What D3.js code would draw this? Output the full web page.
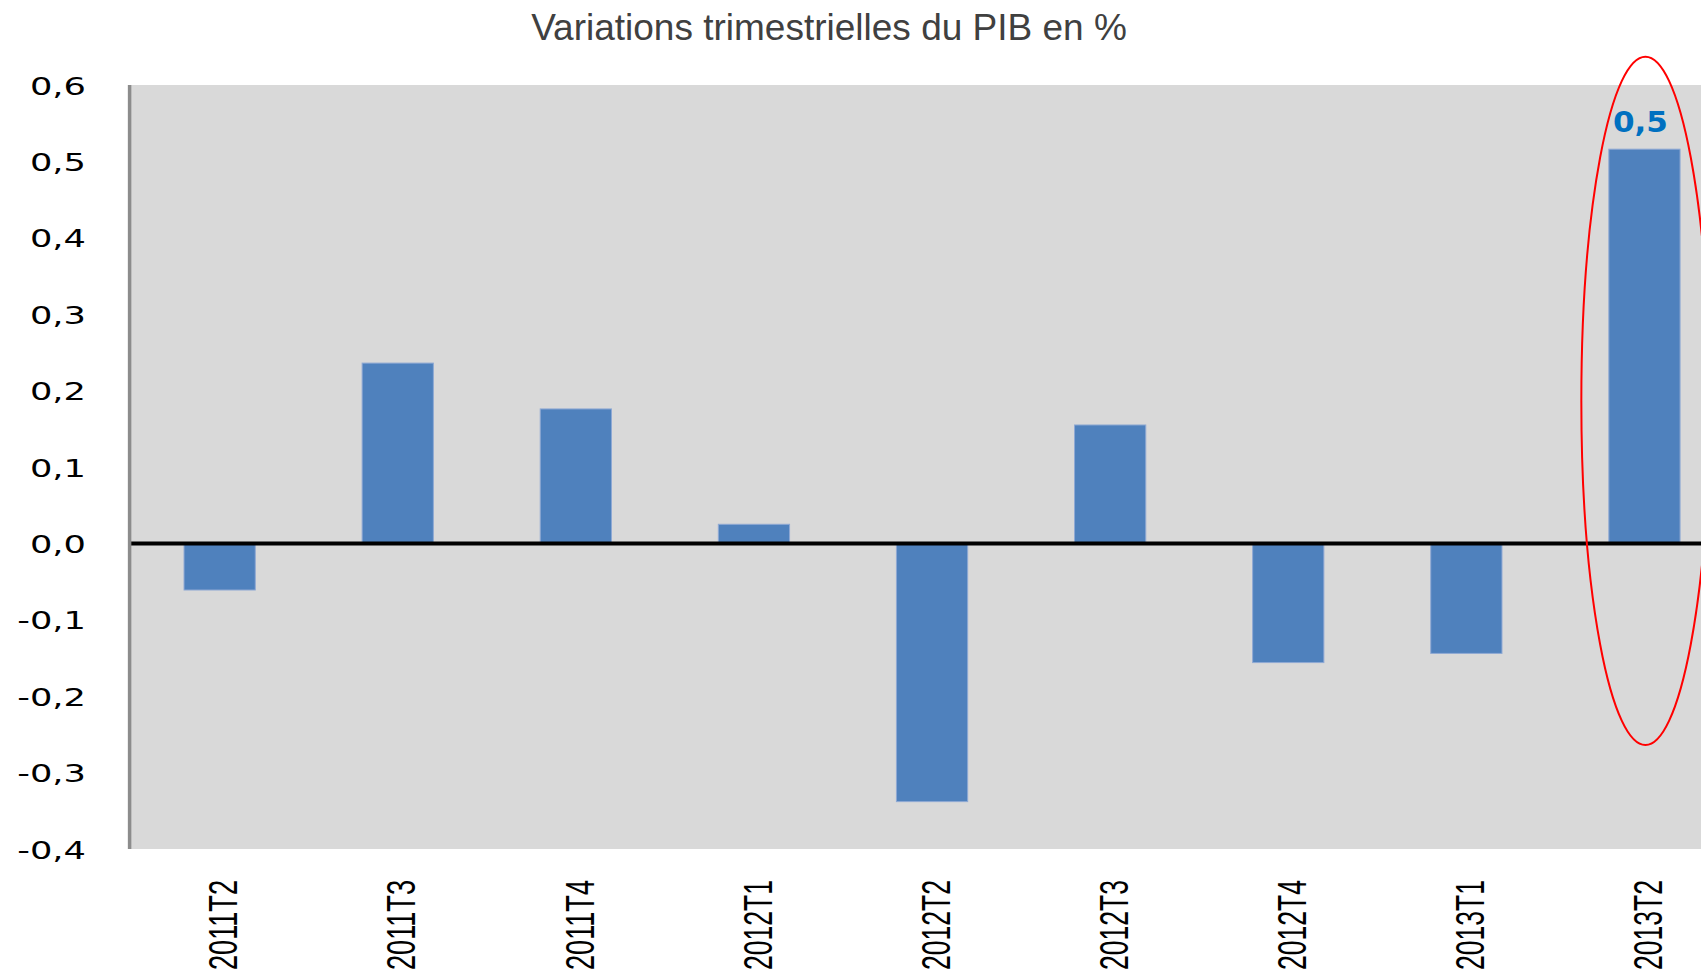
<!DOCTYPE html>
<html>
<head>
<meta charset="utf-8">
<script src="https://cdn.jsdelivr.net/npm/d3@7"></script>
<style>
  html, body { margin: 0; padding: 0; background: #fff; }
  svg { display: block; }
</style>
</head>
<body>
<div id="chart"></div>
<script>
// data
const quarters = ["2011T2", "2011T3", "2011T4", "2012T1", "2012T2", "2012T3", "2012T4", "2013T1", "2013T2"];
const pib = [-0.061, 0.236, 0.176, 0.025, -0.338, 0.155, -0.156, -0.144, 0.516];
const yTicks = [-0.4, -0.3, -0.2, -0.1, 0, 0.1, 0.2, 0.3, 0.4, 0.5, 0.6];
const highlight = { key: "2013T2", label: "0,5", top: 0.637, bottom: -0.264 };

const width = 1701, height = 976;
const plotLeft = 130.6, plotTop = 85, plotBottom = 849;
const plotRight = plotLeft + 9 * 178.1; // plot runs off the right edge

const fmt = v => d3.format(".1f")(v).replace(".", ",").replace("−", "-");

const svg = d3.select("#chart").append("svg")
  .attr("width", width)
  .attr("height", height);

const x = d3.scaleBand()
  .domain(quarters)
  .range([plotLeft, plotRight])
  .paddingInner(0.6)
  .paddingOuter(0.3);

const y = d3.scaleLinear()
  .domain([-0.4, 0.6])
  .range([plotBottom, plotTop]);

// plot background
svg.append("rect")
  .attr("x", plotLeft - 2)
  .attr("y", y(0.6))
  .attr("width", plotRight - plotLeft + 2)
  .attr("height", y(-0.4) - y(0.6))
  .attr("fill", "#d9d9d9");

// title
svg.append("text")
  .attr("x", 829)
  .attr("y", 40)
  .attr("text-anchor", "middle")
  .attr("font-family", "Liberation Sans, Arial, sans-serif")
  .attr("font-size", 37)
  .attr("fill", "#404040")
  .text("Variations trimestrielles du PIB en %");

// bars
svg.append("g").selectAll("rect")
  .data(quarters)
  .enter()
  .append("rect")
    .attr("x", d => x(d))
    .attr("width", x.bandwidth())
    .attr("y", (d, i) => y(Math.max(0, pib[i])))
    .attr("height", (d, i) => Math.abs(y(pib[i]) - y(0)))
    .attr("fill", "#4f81bd")
    .attr("stroke", "#8fa9d4")
    .attr("stroke-width", 1);

// zero line
svg.append("line")
  .attr("x1", plotLeft - 2)
  .attr("x2", width)
  .attr("y1", y(0))
  .attr("y2", y(0))
  .attr("stroke", "#000")
  .attr("stroke-width", 4);

// y axis line
svg.append("line")
  .attr("x1", plotLeft - 1)
  .attr("x2", plotLeft - 1)
  .attr("y1", y(0.6))
  .attr("y2", y(-0.4))
  .attr("stroke", "#8c8c8c")
  .attr("stroke-width", 3.5);

// y tick labels (stretched wide like the original)
svg.append("g").selectAll("text")
  .data(yTicks)
  .enter()
  .append("text")
    .attr("transform", d => `translate(86,${y(d) + 9.5}) scale(1.41,1)`)
    .attr("text-anchor", "end")
    .attr("font-family", "DejaVu Sans, Verdana, sans-serif")
    .attr("font-size", 25)
    .attr("fill", "#000")
    .text(fmt);

// x labels, rotated and condensed
svg.append("g").selectAll("text")
  .data(quarters)
  .enter()
  .append("text")
    .attr("transform", d => `translate(${x(d) + x.bandwidth() / 2 + 3},880) scale(1.41,1) rotate(-90)`)
    .attr("text-anchor", "end")
    .attr("dy", "0.36em")
    .attr("font-family", "Liberation Sans, Arial, sans-serif")
    .attr("font-size", 29)
    .attr("textLength", 90)
    .attr("lengthAdjust", "spacingAndGlyphs")
    .attr("fill", "#000")
    .text(d => d);

// highlighted value and ellipse
const hx = x(highlight.key) + x.bandwidth() / 2;

svg.append("text")
  .attr("x", hx - 4)
  .attr("y", 132)
  .attr("text-anchor", "middle")
  .attr("font-family", "DejaVu Sans, Verdana, sans-serif")
  .attr("font-weight", "bold")
  .attr("font-size", 28)
  .attr("textLength", 55)
  .attr("lengthAdjust", "spacingAndGlyphs")
  .attr("fill", "#0070c0")
  .text(highlight.label);

svg.append("ellipse")
  .attr("cx", hx + 1)
  .attr("cy", (y(highlight.top) + y(highlight.bottom)) / 2)
  .attr("rx", x.bandwidth() * 0.9)
  .attr("ry", (y(highlight.bottom) - y(highlight.top)) / 2)
  .attr("fill", "none")
  .attr("stroke", "#ff0000")
  .attr("stroke-width", 2);
</script>
</body>
</html>
